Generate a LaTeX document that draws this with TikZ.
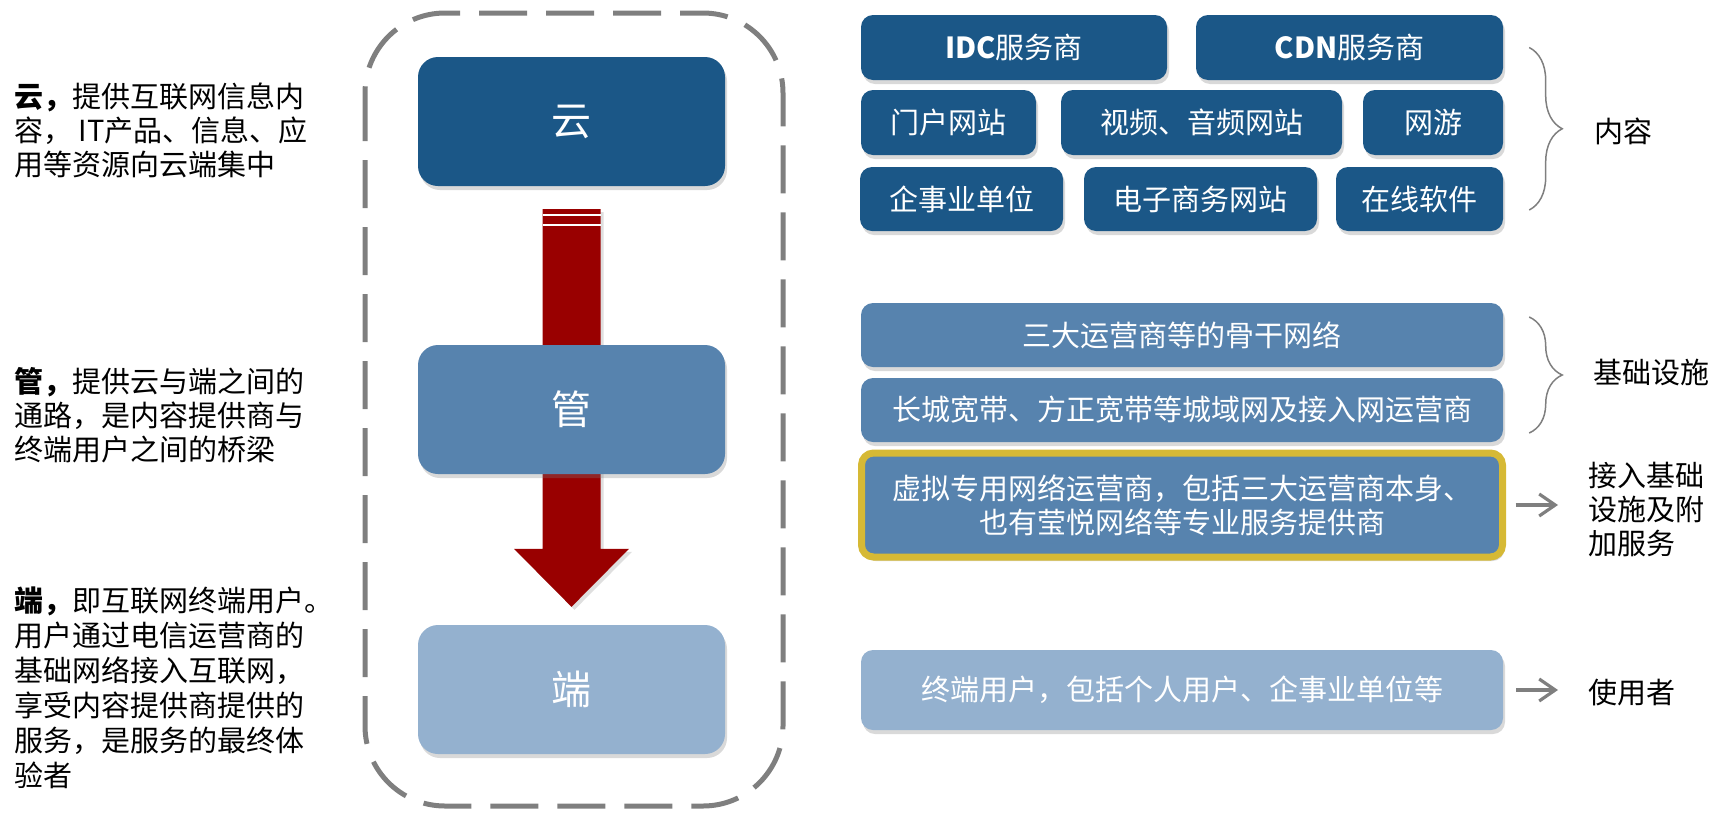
\documentclass[tikz,border=0pt]{standalone}
\usepackage{fontspec}
\setmainfont{Noto Sans CJK SC}
\usepackage{tikz}
\usetikzlibrary{arrows.meta}
\usetikzlibrary{backgrounds}
\usetikzlibrary{calc}
\usetikzlibrary{decorations.pathreplacing}
\usetikzlibrary{positioning}
\usetikzlibrary{shadows}
\definecolor{darkblue}{RGB}{27,87,135}
\definecolor{midblue}{RGB}{87,131,174}
\definecolor{lightblue}{RGB}{148,177,207}
\definecolor{gold}{RGB}{214,185,53}
\definecolor{darkred}{RGB}{153,0,0}
\definecolor{framegray}{RGB}{127,127,127}
\tikzset{boxshadow/.style={drop shadow={shadow xshift=2pt,shadow yshift=-4pt,opacity=0.3}}}

\begin{document}
\begin{tikzpicture}[x=1pt,y=-1pt,
    on grid,
    font=\fontsize{29}{34}\selectfont,
    tierbox/.style={rounded corners=20pt, minimum width=307pt, minimum height=129pt,
      text=white, font=\fontsize{40}{48}\selectfont, boxshadow},
    itembox/.style={rounded corners=12pt, inner sep=0pt, text=white, align=center, boxshadow},
    contentbox/.style={itembox, fill=darkblue, minimum height=65pt},
    notetext/.style={inner sep=0pt, align=left, anchor=west},
    pointer/.style={-{Straight Barb[length=16pt,width=22pt]}, line width=3.2pt, draw=framegray},
    bracket/.style={decorate, decoration={brace,amplitude=33pt}, line width=1.5pt, framegray}]

  \useasboundingbox (0,0) rectangle (1723,812);

  \draw[framegray, line width=5pt, dash pattern=on 48pt off 19pt, rounded corners=80pt]
    (365,13) rectangle (783,806);

  \node[tierbox, fill=darkblue]
    (Cloud) at (571.5,121.5) {云};
  \node[tierbox, fill=midblue]
    (Pipe) [below=288pt of Cloud] {管};
  \node[tierbox, fill=lightblue]
    (End) [below=280pt of Pipe] {端};

  \begin{scope}[on background layer]
    \fill[darkred, drop shadow={shadow xshift=3pt,shadow yshift=-3pt,opacity=0.25}]
      ($(Cloud.south)+(-29,23)$) -- ($(Cloud.south)+(29,23)$)
      -- ($(End.north)+(29,-76)$) -- ($(End.north)+(57.5,-76)$)
      -- ($(End.north)+(0,-18)$) -- ($(End.north)+(-57.5,-76)$)
      -- ($(End.north)+(-29,-76)$) -- cycle;
    \draw[white, line width=1.5pt]
      ($(Cloud.south)+(-29,29)$) -- ($(Cloud.south)+(29,29)$)
      ($(Cloud.south)+(-29,39)$) -- ($(Cloud.south)+(29,39)$);
  \end{scope}

  \node[notetext]
    (CloudNote) at (14,130) {{\bfseries 云，}提供互联网信息内\\容， IT产品、信息、应\\用等资源向云端集中};
  \node[notetext]
    (PipeNote) at (14,415) {{\bfseries 管，}提供云与端之间的\\通路，是内容提供商与\\终端用户之间的桥梁};
  \node[notetext, font=\fontsize{29}{35}\selectfont]
    (EndNote) at (14,687.5) {{\bfseries 端，}即互联网终端用户。\\用户通过电信运营商的\\基础网络接入互联网，\\享受内容提供商提供的\\服务，是服务的最终体\\验者};

  \node[contentbox, minimum width=306pt]
    (IDC) at (1014,47.5) {{\bfseries IDC}服务商};
  \node[contentbox, minimum width=307pt]
    (CDN) [right=335.5pt of IDC] {{\bfseries CDN}服务商};
  \node[contentbox, minimum width=175pt]
    (Portal) at (948.5,122.5) {门户网站};
  \node[contentbox, minimum width=281pt]
    (Video) [right=253pt of Portal] {视频、音频网站};
  \node[contentbox, minimum width=140pt]
    (Game) [right=231.5pt of Video] {网游};
  \node[contentbox, minimum width=203pt, minimum height=64pt]
    (Company) at (961.5,199) {企事业单位};
  \node[contentbox, minimum width=233pt, minimum height=64pt]
    (Shop) [right=239pt of Company] {电子商务网站};
  \node[contentbox, minimum width=167pt, minimum height=64pt]
    (Software) [right=219pt of Shop] {在线软件};

  \node[itembox, fill=midblue, minimum width=642pt, minimum height=64pt]
    (Backbone) at (1182,335) {三大运营商等的骨干网络};
  \node[itembox, fill=midblue, minimum width=642pt, minimum height=64pt]
    (Metro) [below=75pt of Backbone] {长城宽带、方正宽带等城域网及接入网运营商};
  \node[itembox, fill=midblue, draw=gold, line width=7pt, minimum width=641pt, minimum height=104pt]
    (Virtual) [below=95pt of Metro] {虚拟专用网络运营商，包括三大运营商本身、\\也有莹悦网络等专业服务提供商};
  \node[itembox, fill=lightblue, minimum width=642pt, minimum height=80pt]
    (Terminal) [below=185pt of Virtual] {终端用户，包括个人用户、企事业单位等};

  \node[notetext]
    (Content) at (1594,131) {内容};
  \node[notetext]
    (Infra) at (1593,372) {基础设施};
  \node[notetext]
    (Access) at (1588,509) {接入基础\\设施及附\\加服务};
  \node[notetext]
    (Users) at (1588,693) {使用者};

  \draw[bracket] ([xshift=26pt]CDN.east) -- ([xshift=26pt,yshift=-11pt]Software.east);
  \draw[bracket] ([xshift=26pt,yshift=18pt]Backbone.east) -- ([xshift=26pt,yshift=-23pt]Metro.east);

  \draw[pointer, shorten <=9.5pt, shorten >=30pt]
    (Virtual.east) -- (Virtual.east -| Access.west);
  \draw[pointer, shorten <=13pt, shorten >=30pt]
    (Terminal.east) -- (Terminal.east -| Users.west);

\end{tikzpicture}
\end{document}
